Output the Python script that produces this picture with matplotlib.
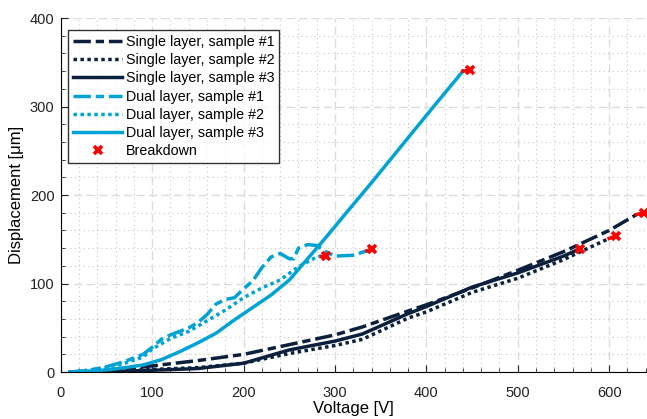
"""Displacement vs voltage for single and dual layer actuators"""

import matplotlib

matplotlib.use("Agg")
import matplotlib.pyplot as plt
from matplotlib.ticker import MultipleLocator
from matplotlib.lines import Line2D

NAVY = "#0c1f3d"
CYAN = "#00a3d4"

# single layer
s1_v = [10, 50, 100, 150, 200, 250, 300, 330, 380, 400, 450, 500, 550, 600, 630]
s1_d = [0, 1, 7, 13, 20, 31, 42, 51, 69, 76, 95, 115, 136, 160, 178]
s2_v = [10, 50, 100, 150, 200, 250, 300, 330, 380, 400, 450, 500, 550, 600]
s2_d = [0, 1, 3, 5, 10, 21, 30, 37, 61, 68, 90, 106, 127, 151]
s3_v = [10, 50, 100, 150, 200, 250, 300, 330, 380, 400, 450, 500, 550, 565]
s3_d = [0, 0.5, 2, 4, 10, 25, 35, 43, 66, 74, 96, 112, 131, 138]

# dual layer
d1_v = [10, 30, 50, 70, 90, 100, 110, 120, 130, 140, 150, 160, 170, 180, 190,
        200, 210, 220, 230, 240, 250, 255, 260, 270, 280, 290, 300, 320, 335]
d1_d = [0, 2, 6, 12, 20, 28, 37, 42, 46, 50, 56, 65, 77, 82, 84,
        94, 103, 118, 130, 134, 128, 128, 140, 144, 143, 136, 131, 132, 137]
d2_v = [10, 30, 50, 70, 90, 100, 120, 140, 160, 180, 200, 220, 240, 260, 280, 285]
d2_d = [0, 2, 5, 10, 17, 26, 38, 46, 58, 70, 84, 95, 104, 119, 130, 131]
d3_v = [10, 30, 50, 70, 90, 110, 130, 150, 170, 190, 210, 230, 250, 270, 290,
        310, 340, 370, 400, 420, 440]
d3_d = [0, 1, 2.5, 5, 8, 14, 23, 33, 44, 59, 73, 87, 104, 128, 152,
        177, 214, 252, 290, 315, 340]

# breakdown points
bd_v = [638, 608, 568, 340, 290, 448]
bd_d = [180, 154, 139, 139, 131, 341]

DASHDOT = (0, (5, 1.4, 2.4, 1.4))
DOTTED = (0, (1, 1))

series = [
    (s1_v, s1_d, NAVY, DASHDOT, "Single layer, sample #1"),
    (s2_v, s2_d, NAVY, DOTTED, "Single layer, sample #2"),
    (s3_v, s3_d, NAVY, "-", "Single layer, sample #3"),
    (d1_v, d1_d, CYAN, DASHDOT, "Dual layer, sample #1"),
    (d2_v, d2_d, CYAN, DOTTED, "Dual layer, sample #2"),
    (d3_v, d3_d, CYAN, "-", "Dual layer, sample #3"),
]

plt.rcParams["font.family"] = ["Liberation Sans", "DejaVu Sans"]
plt.rcParams["font.size"] = 10.5

fig = plt.figure(figsize=(6.47, 4.19), dpi=100)
ax = fig.add_axes([0.094, 0.112, 0.904, 0.845])

handles = []
for (xs, ys, color, ls, label), bv, bd in zip(series, bd_v, bd_d):
    line, = ax.plot(xs, ys, color=color, linestyle=ls, lw=2.5, label=label)
    handles.append(line)
    ax.plot([xs[-1], bv], [ys[-1], bd], color="red", lw=2.5, zorder=4)
ax.plot(bd_v, bd_d, "x", color="red", ms=6, mew=2.6, zorder=5)
handles.append(Line2D([], [], color="red", marker="x", ls="none", ms=6, mew=2.6,
                      label="Breakdown"))

ax.set_xlim(0, 640)
ax.set_ylim(0, 400)
ax.xaxis.set_major_locator(MultipleLocator(100))
ax.xaxis.set_minor_locator(MultipleLocator(20))
ax.yaxis.set_major_locator(MultipleLocator(100))
ax.yaxis.set_minor_locator(MultipleLocator(20))
ax.grid(which="major", color="#dcdcdc", linestyle=(0, (6, 3)), lw=1.0)
ax.grid(which="minor", color="#c8c8c8", linestyle=(0, (1, 3)), lw=0.8)
ax.set_axisbelow(True)
for side in ["top", "right"]:
    ax.spines[side].set_visible(False)
ax.tick_params(which="both", direction="in", colors="#222222")
ax.tick_params(which="major", length=5)
ax.tick_params(which="minor", length=3)
ax.tick_params(axis="x", which="major", pad=10)
ax.tick_params(axis="y", which="major", pad=4.5)

ax.set_xlabel("Voltage [V]", fontsize=12, labelpad=1)
ax.set_ylabel("Displacement [\u03bcm]", fontsize=12, labelpad=4)

leg = ax.legend(handles=handles, loc="upper left", bbox_to_anchor=(0.013, 0.967),
                frameon=True, fancybox=False, fontsize=10.3, handlelength=3.4,
                borderpad=0.35, labelspacing=0.3, handletextpad=0.25,
                borderaxespad=0)
leg.get_frame().set_edgecolor("black")
leg.get_frame().set_linewidth(1.0)

fig.savefig("out.png", dpi=100)
